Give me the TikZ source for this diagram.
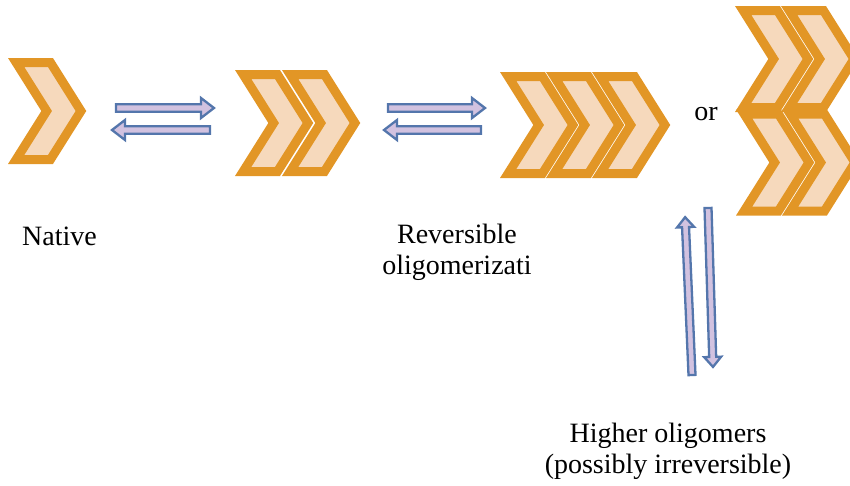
\documentclass[tikz,border=0pt]{standalone}
\usepackage{fontspec}
\setmainfont{Liberation Serif}
\definecolor{chevline}{RGB}{226,150,38}
\definecolor{chevfill}{RGB}{246,217,188}
\definecolor{arrline}{RGB}{84,118,172}
\definecolor{arrfill}{RGB}{210,194,224}
\tikzset{
  chevshape/.style={draw=chevline, fill=chevfill, line width=9pt, line join=miter, miter limit=10},
  arrshape/.style={draw=arrline, fill=arrfill, line width=2.3pt, line join=miter},
  lbl/.style={font=\fontsize{28}{31}\selectfont, inner sep=0pt, align=center},
  pics/chevron/.style={code={
    \path[chevshape] (0,0) -- (34.3,0) -- (64.8,48.5) -- (34.3,97) -- (0,97) -- (30.5,48.5) -- cycle;
  }},
  pics/barrow/.style args={#1/#2/#3/#4}{code={
    \path[arrshape] (0,-#2) -- ({#1-#4},-#2) -- ({#1-#4},-#3) -- (#1,0) -- ({#1-#4},#3) -- ({#1-#4},#2) -- (0,#2) -- cycle;
  }},
}
\begin{document}
\begin{tikzpicture}[x=1pt,y=-1pt]
\useasboundingbox (0,0) rectangle (850,485);
\clip (0,0) rectangle (850,485);
% chevrons
\pic at (16.15,62.5) {chevron};
\pic at (243.15,74.5) {chevron};
\pic at (290.15,74.5) {chevron};
\pic at (508.15,76.5) {chevron};
\pic at (554.15,76.5) {chevron};
\pic at (600.15,76.5) {chevron};
\pic at (743.15,10.5) {chevron};
\pic at (789.15,10.5) {chevron};
\pic at (744.15,114) {chevron};
\pic at (790.15,114) {chevron};
% equilibrium arrows
\pic at (116,108) {barrow=98/3.8/10/13};
\pic[rotate=180] at (210,130) {barrow=98/3.8/10/13};
\pic at (388,108) {barrow=97/3.8/10/13};
\pic[rotate=180] at (481,130) {barrow=97/3.8/10/13};
\pic[rotate=92.5] at (692,375) {barrow=158/3.5/8.5/10};
\pic[rotate=-88.2] at (708,208) {barrow=159/3.5/8.5/10};
% labels
\node[lbl, anchor=base] (or) at (706,120) {or};
\node[lbl, anchor=base] (native) at (59.5,245) {Native};
\node[lbl, anchor=north] (rev) at (457,224) {Reversible\\oligomerizati};
\node[lbl, anchor=north] (higher) at (668,423) {Higher oligomers\\(possibly irreversible)};
\end{tikzpicture}
\end{document}
